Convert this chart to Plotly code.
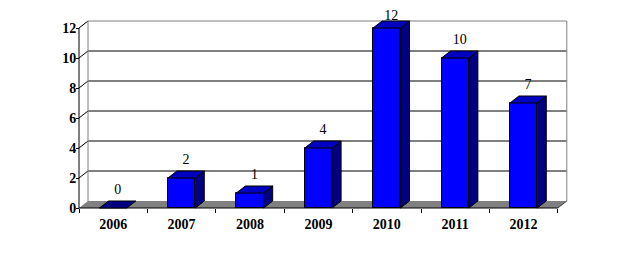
import plotly.graph_objects as go

# ---- data ----
years = ["2006", "2007", "2008", "2009", "2010", "2011", "2012"]
counts = [0, 2, 1, 4, 12, 10, 7]
y_ticks = [0, 2, 4, 6, 8, 10, 12]

# ---- geometry (pixel scale of the plot) ----
W, H = 624, 253
ML, MR, MT, MB = 76, 54, 2, 42
PW, PH = W - ML - MR, H - MT - MB
PX = 68.4          # px per category
PY = 15.0          # px per unit
PAD = 3            # px of free space around the 3D box
DX = 9 / PX        # depth offset in x units
DY = 7 / PY        # depth offset in y units
BAR_W = 0.4

xs = list(range(len(years)))
xmin, xmax = -0.5, len(years) - 0.5
ymax = max(y_ticks)
x_range = [xmin - PAD / PX, xmin + (PW - PAD) / PX]
y_range = [-PAD / PY, (PH - PAD) / PY]

FRONT = "#0000FF"
TOP = "#0000C0"
SIDE = "#000080"

fig = go.Figure()

# front faces
fig.add_trace(go.Bar(
    x=xs, y=counts, width=BAR_W,
    marker=dict(color=FRONT, line=dict(color="black", width=1)),
    hoverinfo="skip", showlegend=False,
))

# side and top faces
for xi, v in zip(xs, counts):
    l, r = xi - BAR_W / 2, xi + BAR_W / 2
    if v > 0:
        fig.add_trace(go.Scatter(
            x=[r, r + DX, r + DX, r, r], y=[0, DY, v + DY, v, 0],
            mode="lines", fill="toself", fillcolor=SIDE,
            line=dict(color="black", width=1), hoverinfo="skip", showlegend=False,
        ))
    fig.add_trace(go.Scatter(
        x=[l, l + DX, r + DX, r, l], y=[v, v + DY, v + DY, v, v],
        mode="lines", fill="toself", fillcolor=TOP if v > 0 else SIDE,
        line=dict(color="black", width=1), hoverinfo="skip", showlegend=False,
    ))

# value labels (kept inside the chart area like the original)
label_cap = ymax + DY + 4.3 / PY
fig.add_trace(go.Scatter(
    x=[xi + DX / 2 for xi in xs],
    y=[min(v + DY + 0.68, label_cap) for v in counts],
    mode="text", text=[str(v) for v in counts], textposition="middle center",
    textfont=dict(family="Liberation Serif", size=14, color="black"),
    cliponaxis=False, hoverinfo="skip", showlegend=False,
))

# ---- 3D box: floor, back wall, grid ----
shapes = []
shapes.append(dict(
    type="path", xref="x", yref="y", layer="below",
    path=f"M {xmin},0 L {xmax},0 L {xmax + DX},{DY} L {xmin + DX},{DY} Z",
    fillcolor="#808080", line=dict(width=0),
))
for t in y_ticks[1:]:
    col = "black" if t < ymax else "#808080"
    shapes.append(dict(type="line", xref="x", yref="y", layer="below",
                       x0=xmin + DX, x1=xmax + DX, y0=t + DY, y1=t + DY,
                       line=dict(color=col, width=1)))
    shapes.append(dict(type="line", xref="x", yref="y", layer="below",
                       x0=xmin, x1=xmin + DX, y0=t, y1=t + DY,
                       line=dict(color="black", width=1)))
for xb in (xmin + DX, xmax + DX):
    shapes.append(dict(type="line", xref="x", yref="y", layer="below",
                       x0=xb, x1=xb, y0=DY, y1=ymax + DY,
                       line=dict(color="#808080", width=1)))
shapes.append(dict(type="line", xref="x", yref="y", layer="below",
                   x0=xmin, x1=xmin, y0=0, y1=ymax,
                   line=dict(color="black", width=1)))
shapes.append(dict(type="line", xref="x", yref="y", layer="below",
                   x0=xmin, x1=xmax, y0=0, y1=0,
                   line=dict(color="black", width=1)))
shapes.append(dict(type="line", xref="x", yref="y", layer="below",
                   x0=xmax, x1=xmax + DX, y0=0, y1=DY,
                   line=dict(color="#404040", width=1)))

tickfont = dict(family="Liberation Serif", size=14, color="black", weight="bold")

fig.update_layout(
    width=W, height=H,
    margin=dict(l=ML, r=MR, t=MT, b=MB, pad=0),
    paper_bgcolor="white", plot_bgcolor="white",
    shapes=shapes,
    bargap=0,
    xaxis=dict(
        range=x_range, anchor="free", position=PAD / PH,
        tickmode="array", tickvals=xs, ticktext=years,
        ticks="", showgrid=False, zeroline=False, showline=False,
        tickfont=tickfont, ticklabelstandoff=6,
        minor=dict(tickmode="array", tickvals=[xmin + i for i in range(len(years) + 1)],
                   ticks="outside", ticklen=4, tickcolor="black", showgrid=False),
    ),
    yaxis=dict(
        range=y_range, anchor="free", position=PAD / PW,
        tickmode="array", tickvals=y_ticks,
        ticks="outside", ticklen=3, tickcolor="black",
        showgrid=False, zeroline=False, showline=False,
        tickfont=tickfont, ticklabelstandoff=-3,
    ),
)

fig.write_html("out.html")
